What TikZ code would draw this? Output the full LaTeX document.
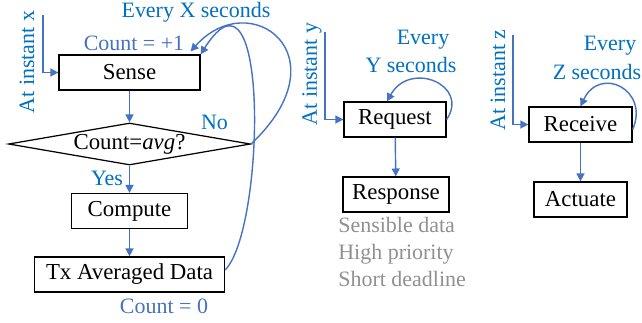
\documentclass[tikz,border=0pt]{standalone}
\usepackage{fontspec}
\setmainfont{Liberation Serif}
\usetikzlibrary{shapes.geometric,arrows.meta}

\definecolor{lineblue}{HTML}{4472C4}
\definecolor{textblue}{HTML}{0070C0}
\definecolor{notegray}{HTML}{909090}

\tikzset{box/.style={draw,line width=0.7pt,minimum height=0.7cm,inner sep=0pt,font=\fontsize{13}{15.6}\selectfont},
         decision/.style={draw,diamond,line width=0.7pt,aspect=5.76,minimum width=4.84cm,minimum height=0.84cm,inner sep=0pt,font=\fontsize{13}{15.6}\selectfont},
         flow/.style={->,lineblue,line width=0.8pt},
         bluetxt/.style={textblue,inner sep=0pt,font=\fontsize{12.5}{15}\selectfont},
         counttxt/.style={lineblue,inner sep=0pt,font=\fontsize{12.5}{15}\selectfont},
         notetxt/.style={notegray,inner sep=0pt,align=left,font=\fontsize{12.5}{15.1}\selectfont}}

\begin{document}
\begin{tikzpicture}[x=0.02cm,y=-0.02cm,>={Triangle[length=4.5pt,width=4.5pt]}]
        \useasboundingbox (0,0) rectangle (642,322);
        % sensing node
        \node[box,minimum width=2.82cm] (sense) at (129.5,72.5) {Sense};
        \node[decision] (avg) at (129.5,144) {Count=\textit{avg}?};
        \node[box,minimum width=2.32cm] (compute) at (129.5,211) {Compute};
        \node[box,minimum width=3.8cm] (tx) at (129.5,274.5) {Tx Averaged Data};
        \node[bluetxt] (everyx) at (196,12) {Every X seconds};
        \node[counttxt] (cntone) at (134,43) {Count = +1};
        \node[bluetxt] (no) at (214.5,122.5) {No};
        \node[bluetxt] (yes) at (107,178) {Yes};
        \node[counttxt] (cntzero) at (164,306) {Count = 0};
        \node[bluetxt,rotate=90] (instx) at (27,62) {At instant x};
        \coordinate (startx) at (43,15);
        \draw[flow] (startx) |- (sense.west);
        \draw[flow] (sense) -- (avg);
        \draw[flow] (avg) -- (compute);
        \draw[flow] (compute) -- (tx);
        \draw[flow] (avg.east) .. controls (345,55) and (250,-15) .. ([xshift=-0.2cm,yshift=0.06cm]sense.north east);
        \draw[flow] ([yshift=0.09cm]tx.east) .. controls (265,230) and (270,-55) .. (sense.north east);
        % requesting node
        \node[box,minimum width=2.04cm] (request) at (395,119.5) {Request};
        \node[box,minimum width=2.12cm] (response) at (396,194.5) {Response};
        \node[bluetxt] (everyy) at (423,40) {Every};
        \node[bluetxt] (secy) at (411,65) {Y seconds};
        \node[bluetxt,rotate=90] (insty) at (312,74) {At instant y};
        \node[notetxt,anchor=west] (notes) at (338,252) {Sensible data\\High priority\\Short deadline};
        \coordinate (starty) at (325,32);
        \draw[flow] (starty) |- (request.west);
        \draw[flow] (request) -- (response);
        \draw[flow] (request.east) .. controls (470,85) and (410,60) .. ([xshift=-0.16cm]request.north);
        % actuating node
        \node[box,minimum width=2.06cm] (receive) at (580.5,124.5) {Receive};
        \node[box,minimum width=1.86cm] (actuate) at (580.5,199.5) {Actuate};
        \node[bluetxt] (everyz) at (610,46) {Every};
        \node[bluetxt] (secz) at (597,72) {Z seconds};
        \node[bluetxt,rotate=90] (instz) at (498,80) {At instant z};
        \coordinate (startz) at (513,35);
        \draw[flow] (startz) |- (receive.west);
        \draw[flow] (receive) -- (actuate);
        \draw[flow] ([yshift=-0.1cm]receive.east) .. controls (650,90) and (600,65) .. (receive.north);
    \end{tikzpicture}
\end{document}
